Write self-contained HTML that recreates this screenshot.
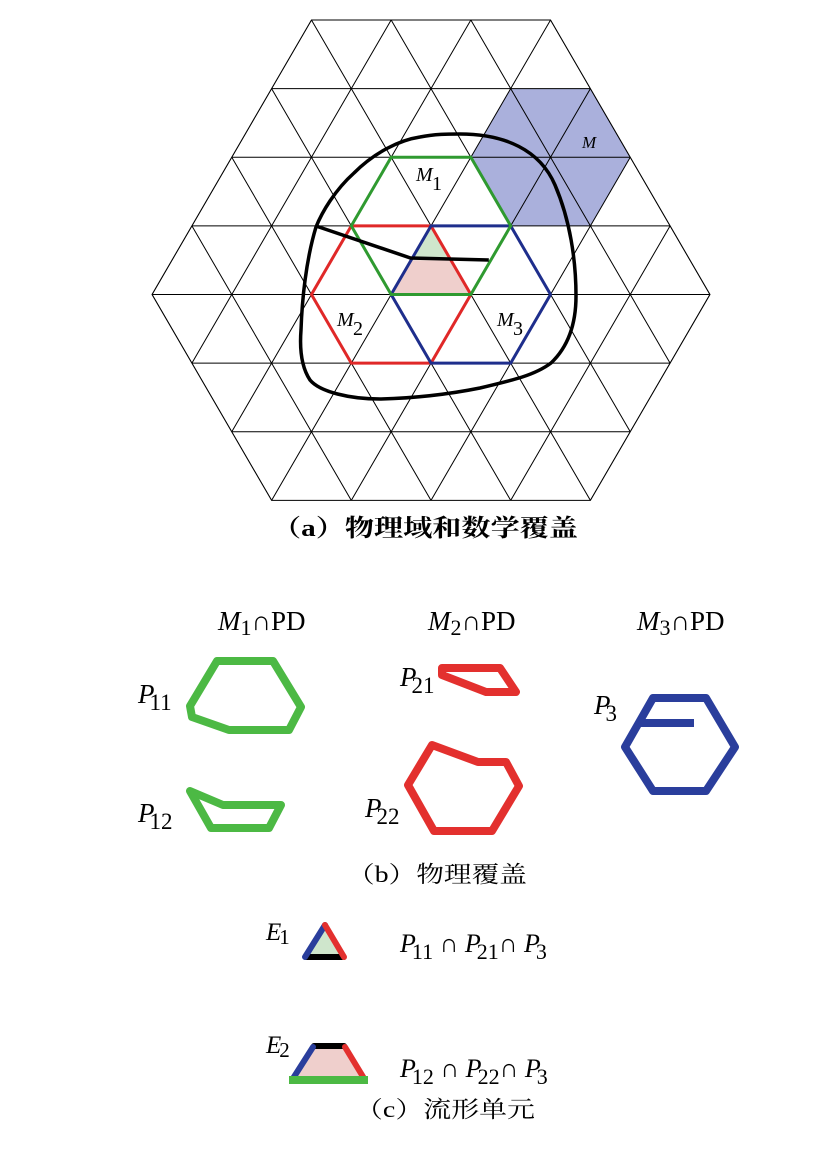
<!DOCTYPE html>
<html><head><meta charset="utf-8"><style>
html,body{margin:0;padding:0;background:#fff;}
svg{display:block;}
.m{font-family:"Liberation Serif",serif;font-style:italic;}
.r{font-family:"Liberation Serif",serif;}
.cap{font-family:"Liberation Serif","Noto Serif CJK SC",serif;font-weight:bold;}
.capn{font-family:"Liberation Serif","Noto Serif CJK SC",serif;font-weight:normal;}
</style></head><body>
<svg width="830" height="1160" viewBox="0 0 830 1160" xmlns="http://www.w3.org/2000/svg">
<defs><clipPath id="hx"><polygon points="311.45,20 550.55,20 710,294.5 590.4,500.4 271.6,500.4 152,294.5"/></clipPath></defs>
<polygon points="510.7,88.6 590.4,88.6 630.25,157.3 590.4,225.9 510.7,225.9 470.85,157.3" fill="#aab0dc"/>
<polygon points="431,225.9 451,260.2 411,260.2" fill="#cfe6cc"/>
<polygon points="411,260.2 451,260.2 470.85,294.5 391.15,294.5" fill="#efcfcc"/>
<g clip-path="url(#hx)" stroke="#000" stroke-width="1" fill="none">
<path d="M100 88.6H760M100 157.3H760M100 225.9H760M100 294.5H760M100 363.1H760M100 431.8H760"/>
<path d="M152.05,20L-126.9,500.4M231.75,20L-47.2,500.4M311.45,20L32.5,500.4M391.15,20L112.2,500.4M470.85,20L191.9,500.4M550.55,20L271.6,500.4M630.25,20L351.3,500.4M709.95,20L431,500.4M789.65,20L510.7,500.4M869.35,20L590.4,500.4M949.05,20L670.1,500.4M1028.75,20L749.8,500.4"/>
<path d="M709.95,20L988.9,500.4M630.25,20L909.2,500.4M550.55,20L829.5,500.4M470.85,20L749.8,500.4M391.15,20L670.1,500.4M311.45,20L590.4,500.4M231.75,20L510.7,500.4M152.05,20L431,500.4M72.35,20L351.3,500.4M-7.35,20L271.6,500.4M-87.05,20L191.9,500.4M-166.75,20L112.2,500.4"/>
</g>
<polygon points="311.45,20 550.55,20 710,294.5 590.4,500.4 271.6,500.4 152,294.5" fill="none" stroke="#000" stroke-width="1"/>
<polygon points="351.3,225.9 431,225.9 470.85,294.5 431,363.1 351.3,363.1 311.45,294.5" fill="none" stroke="#e02828" stroke-width="3"/>
<polygon points="431,225.9 510.7,225.9 550.55,294.5 510.7,363.1 431,363.1 391.15,294.5" fill="none" stroke="#1e2e8c" stroke-width="3"/>
<polygon points="391.15,157.3 470.85,157.3 510.7,225.9 470.85,294.5 391.15,294.5 351.3,225.9" fill="none" stroke="#2f9a30" stroke-width="3"/>
<path d="M316,226 L410.5,258 L488.8,260" fill="none" stroke="#000" stroke-width="3.5"/>
<path d="M459.7,134 C505,134 540,150 555,185 C570,220 576,260 576,296 C576,320 570,345 551,363 C535,375 514,380 480,388 C450,394 420,398 380,399 C350,399 320,392 310,380 C300,365 300,343 301,330 C302,300 306,260 316,227 C322,212 335,190 354,173 C375,152 400,140 420,137 C435,134 448,134 459.7,134 Z" fill="none" stroke="#000" stroke-width="3.5"/>
<text class="m" x="416" y="181" font-size="20">M</text><text class="r" x="432" y="190" font-size="20">1</text>
<text class="m" x="337" y="326" font-size="20">M</text><text class="r" x="353" y="335" font-size="20">2</text>
<text class="m" x="497" y="326" font-size="20">M</text><text class="r" x="513" y="335" font-size="20">3</text>
<text class="m" x="582" y="148" font-size="17">M</text>
<text class="cap" x="272" y="536" font-size="24" textLength="306" lengthAdjust="spacingAndGlyphs">（a）物理域和数学覆盖</text>

<text x="218" y="630" font-size="27"><tspan class="m">M</tspan><tspan class="r" font-size="22" dy="5">1</tspan><tspan class="r" dy="-5">∩PD</tspan></text>
<text x="428" y="630" font-size="27"><tspan class="m">M</tspan><tspan class="r" font-size="22" dy="5">2</tspan><tspan class="r" dy="-5">∩PD</tspan></text>
<text x="637" y="630" font-size="27"><tspan class="m">M</tspan><tspan class="r" font-size="22" dy="5">3</tspan><tspan class="r" dy="-5">∩PD</tspan></text>

<g fill="none" stroke-width="8" stroke-linejoin="round">
<polygon stroke="#4cb944" points="217,661 273,661 301,707 289,730 229,730 192,717 190,706"/>
<polygon stroke="#4cb944" points="190,791 223,805 281,805 269,828 211,828"/>
<polygon stroke="#e3302e" points="442,668 500,668 516,692 486,692 442,675"/>
<polygon stroke="#e3302e" points="432,745 478,762 506,762 519,786 492,831 434,831 408,785"/>
<polygon stroke="#2a3e9c" points="653,698 706,698 735,747 706,791 653,791 625,747"/>
<path stroke="#2a3e9c" d="M641,723 L694,723"/>
</g>
<text x="138" y="703" font-size="27"><tspan class="m">P</tspan><tspan class="r" font-size="23" dx="-5" dy="7">11</tspan></text>
<text x="138" y="822" font-size="27"><tspan class="m">P</tspan><tspan class="r" font-size="23" dx="-5" dy="7">12</tspan></text>
<text x="400" y="686" font-size="27"><tspan class="m">P</tspan><tspan class="r" font-size="23" dx="-5" dy="7">21</tspan></text>
<text x="365" y="817" font-size="27"><tspan class="m">P</tspan><tspan class="r" font-size="23" dx="-5" dy="7">22</tspan></text>
<text x="594" y="714" font-size="27"><tspan class="m">P</tspan><tspan class="r" font-size="23" dx="-5" dy="7">3</tspan></text>
<text class="capn" x="347" y="882" font-size="23" textLength="180" lengthAdjust="spacingAndGlyphs">（b）物理覆盖</text>

<polygon points="325,925 345,958 303,958" fill="#cfe6cc"/>
<g stroke-width="6" stroke-linecap="round" fill="none">
<path stroke="#000" d="M306,957 L342,957"/>
<path stroke="#2a3e9c" d="M305,957 L325,925"/>
<path stroke="#e3302e" d="M325,925 L344,957"/>
</g>
<polygon points="313,1047 345,1047 367,1082 290,1082" fill="#efcfcc"/>
<g stroke-width="6" stroke-linecap="round" fill="none">
<path stroke="#000" d="M314,1046 L344,1046"/>
<path stroke="#2a3e9c" d="M292,1080 L313,1047"/>
<path stroke="#e3302e" d="M345,1047 L365,1080"/>
<path stroke="#4cb944" stroke-width="8" stroke-linecap="butt" d="M289,1080 L368,1080"/>
</g>
<text x="266" y="940" font-size="25"><tspan class="m">E</tspan><tspan class="r" font-size="21" dx="-2" dy="4">1</tspan></text>
<text x="266" y="1053" font-size="25"><tspan class="m">E</tspan><tspan class="r" font-size="21" dx="-2" dy="4">2</tspan></text>
<text x="400" y="952" font-size="26"><tspan class="m">P</tspan><tspan class="r" font-size="22" dx="-4" dy="7">11</tspan><tspan class="r" dy="-7"> ∩ </tspan><tspan class="m">P</tspan><tspan class="r" font-size="22" dx="-4" dy="7">21</tspan><tspan class="r" dy="-7">∩ </tspan><tspan class="m">P</tspan><tspan class="r" font-size="22" dx="-4" dy="7">3</tspan></text>
<text x="400" y="1077" font-size="26"><tspan class="m">P</tspan><tspan class="r" font-size="22" dx="-4" dy="7">12</tspan><tspan class="r" dy="-7"> ∩ </tspan><tspan class="m">P</tspan><tspan class="r" font-size="22" dx="-4" dy="7">22</tspan><tspan class="r" dy="-7">∩  </tspan><tspan class="m">P</tspan><tspan class="r" font-size="22" dx="-4" dy="7">3</tspan></text>
<text class="capn" x="355" y="1117" font-size="23" textLength="180" lengthAdjust="spacingAndGlyphs">（c）流形单元</text>
</svg>
</body></html>
